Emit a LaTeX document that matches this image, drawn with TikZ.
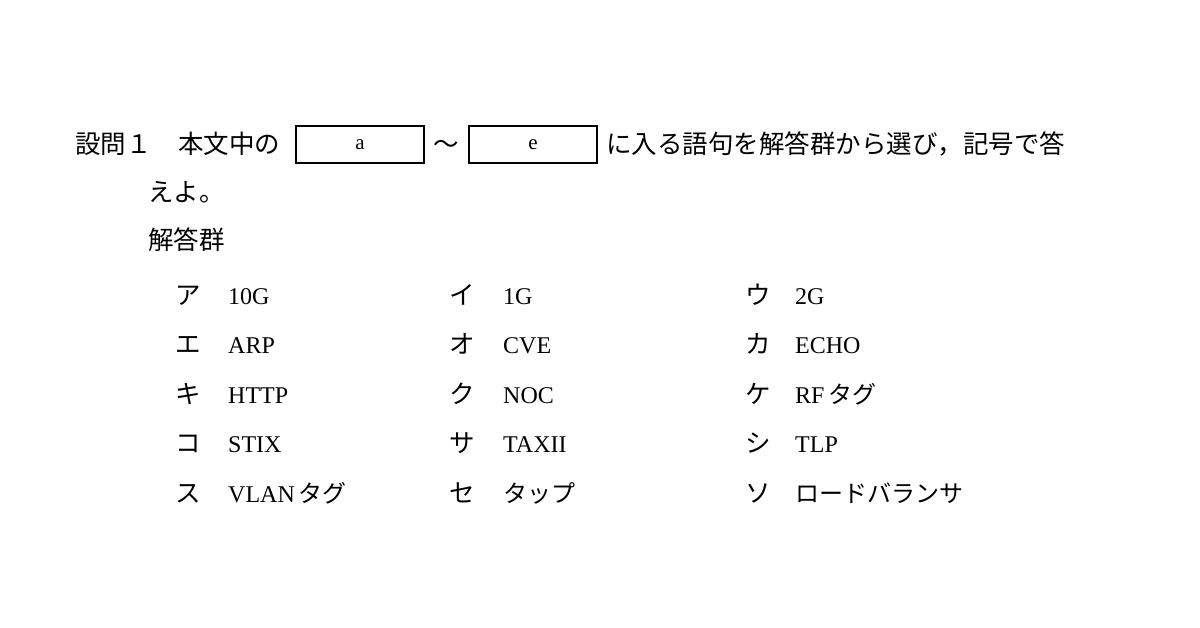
\documentclass[tikz,border=0pt]{standalone}
\usepackage{fontspec}
\setmainfont{Liberation Serif}
\newfontfamily\jp{Noto Sans CJK JP}[Scale=1]
\begin{document}
\begin{tikzpicture}[x=1pt,y=-1pt,
  t/.style={anchor=base west,inner sep=0pt,font=\fontsize{25.5}{28}\selectfont\jp},
  l/.style={anchor=base west,inner sep=0pt,font=\fontsize{24}{28}\selectfont},
  blank/.style={draw,line width=1.6pt,minimum width=128pt,minimum height=37pt,inner sep=0pt,font=\fontsize{21}{22}\selectfont}]
\useasboundingbox (0,0) rectangle (1200,628);
\node[t] (q) at (75,154) {設問１};
\node[t] (s1) at (178,154) {本文中の};
\node[blank] (ba) at (360,144.5) {a};
\node[t] (til) at (433,154) {～};
\node[blank] (be) at (533,144.5) {e};
\node[t] (s2) at (606,154) {に入る語句を解答群から選び，記号で答};
\node[t] (s3) at (148,202) {えよ。};
\node[t] (g) at (148,250) {解答群};
\foreach \y/\a/\b/\c/\d/\e/\f [count=\i] in {
  305/ア/10G/イ/1G/ウ/2G,
  354/エ/ARP/オ/CVE/カ/ECHO,
  403/キ/HTTP/ク/NOC/ケ/{RF\,{\jp タグ}},
  452/コ/STIX/サ/TAXII/シ/TLP,
  502/ス/{VLAN\,{\jp タグ}}/セ/{\jp タップ}/ソ/{\jp ロードバランサ}}{
  \node[t] (ka\i) at (175,\y) {\a};
  \node[l] (va\i) at (228,\y) {\b};
  \node[t] (kb\i) at (449,\y) {\c};
  \node[l] (vb\i) at (503,\y) {\d};
  \node[t] (kc\i) at (745,\y) {\e};
  \node[l] (vc\i) at (795,\y) {\f};
}
\end{tikzpicture}
\end{document}
